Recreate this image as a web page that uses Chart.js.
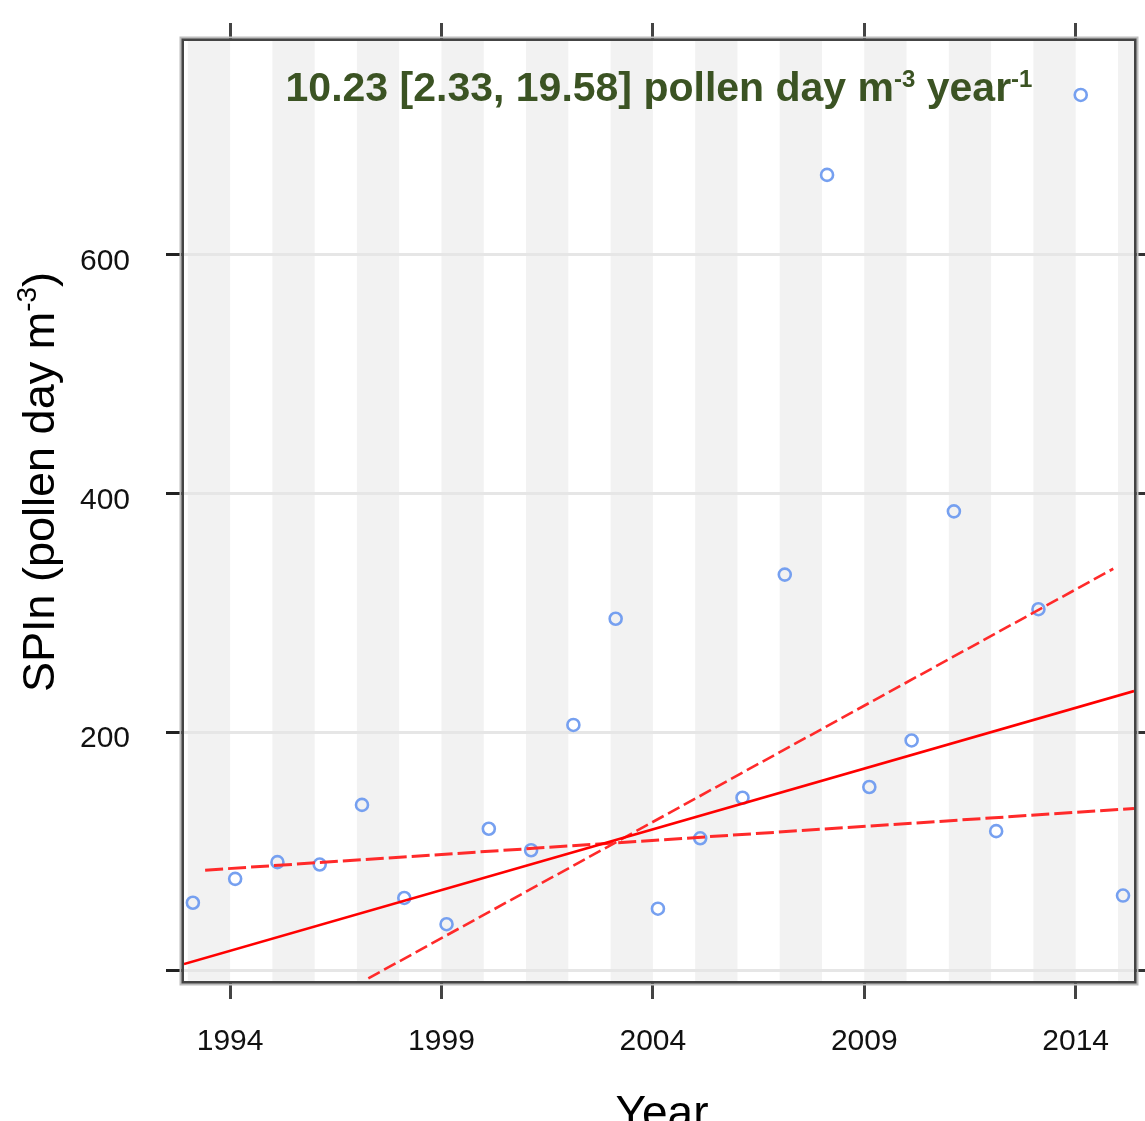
<!DOCTYPE html>
<html>
<head>
<meta charset="utf-8">
<script src="https://cdn.jsdelivr.net/npm/chart.js@4/dist/chart.umd.min.js"></script>
<style>
  html, body { margin: 0; padding: 0; background: #fff; }
  #wrap { width: 1145px; height: 1121px; }
</style>
</head>
<body>
<div id="wrap"><canvas id="chart" width="1145" height="1121"></canvas></div>
<script>
const years = [1993, 1994, 1995, 1996, 1997, 1998, 1999, 2000, 2001, 2002, 2003, 2004,
  2005, 2006, 2007, 2008, 2009, 2010, 2011, 2012, 2013, 2014, 2015]
const spin = [57, 77, 91, 89, 139, 61, 39, 119, 101, 206, 295, 52,
  111, 145, 332, 667, 154, 193, 385, 117, 303, 734, 63]

const xTickValues = [1994, 1999, 2004, 2009, 2014]
const yTickValues = [0, 200, 400, 600]
const yTickLabels = ['', '200', '400', '600']

// Theil-Sen trend and its interval, end points (year, value)
const trendX = [1992.91, 2015.38]
const trendY = [5.6, 234.4]
const lowerX = [1993.41, 2015.38]
const lowerY = [84.3, 136.0]
const upperX = [1997.27, 2014.89]
const upperY = [-6.4, 336.9]
const slopeText = ['10.23', '2.33', '19.58']

// the points sit a little right of the year ticks in the original
const pointShift = 0.12

const FONT = "'Liberation Sans', Arial, sans-serif"
const GREEN = '#3b5323'

const toXY = (xs, ys) => xs.map((x, i) => ({ x: x, y: ys[i] }))

function drawParts (ctx, parts, x, y) {
  let w = 0
  for (const p of parts) {
    ctx.font = `${p.weight || 'normal'} ${p.size}px ${FONT}`
    p.w = ctx.measureText(p.text).width
    w += p.w
  }
  let cx = x - w / 2
  for (const p of parts) {
    ctx.font = `${p.weight || 'normal'} ${p.size}px ${FONT}`
    ctx.fillText(p.text, cx, y - (p.rise || 0))
    cx += p.w
  }
}

const decor = {
  id: 'decor',
  beforeDraw (chart) {
    const { ctx, chartArea: a } = chart
    const xs = chart.scales.x
    ctx.save()
    ctx.fillStyle = '#fff'
    ctx.fillRect(0, 0, chart.width, chart.height)
    ctx.beginPath()
    ctx.rect(a.left, a.top, a.right - a.left, a.bottom - a.top)
    ctx.clip()
    ctx.fillStyle = '#f2f2f2'
    for (let yr = Math.floor(xs.min); yr < xs.max; yr++) {
      if (Math.abs(yr % 2) === 1) {
        const p0 = xs.getPixelForValue(yr)
        const p1 = xs.getPixelForValue(yr + 1)
        ctx.fillRect(p0, a.top, p1 - p0, a.bottom - a.top)
      }
    }
    ctx.restore()
  },
  afterDraw (chart) {
    const { ctx, chartArea: a } = chart
    ctx.save()
    // frame
    ctx.strokeStyle = '#bdbdbd'
    ctx.lineWidth = 2
    ctx.strokeRect(a.left - 3.5, a.top - 3.5, a.right - a.left + 7, a.bottom - a.top + 7)
    ctx.strokeStyle = '#444'
    ctx.lineWidth = 2.6
    ctx.strokeRect(a.left - 1.3, a.top - 1.3, a.right - a.left + 2.6, a.bottom - a.top + 2.6)

    const cx = (a.left + a.right) / 2
    // slope annotation
    ctx.fillStyle = GREEN
    ctx.textBaseline = 'alphabetic'
    drawParts(ctx, [
      { text: `${slopeText[0]} [${slopeText[1]}, ${slopeText[2]}] pollen day m`, size: 41, weight: 'bold' },
      { text: '-3', size: 24, weight: 'bold', rise: 14 },
      { text: ' year', size: 41, weight: 'bold' },
      { text: '-1', size: 24, weight: 'bold', rise: 14 }
    ], cx, 101)

    // axis titles
    ctx.fillStyle = '#000'
    drawParts(ctx, [{ text: 'Year', size: 46 }], cx + 3, 1128)
    ctx.translate(54, 482)
    ctx.rotate(-Math.PI / 2)
    drawParts(ctx, [
      { text: 'SPIn (pollen day m', size: 45 },
      { text: '-3', size: 28, rise: 18 },
      { text: ')', size: 45 }
    ], 0, 0)
    ctx.restore()
  }
}

// fixed axis sizes so the plot box lands where the original has it
const fixSize = (size) => (scale) => {
  if (scale.isHorizontal()) {
    scale.height = size
    scale.paddingLeft = 0
    scale.paddingRight = 0
  } else {
    scale.width = size
    scale.paddingTop = 0
    scale.paddingBottom = 0
  }
}

new Chart(document.getElementById('chart'), {
  data: {
    datasets: [
      {
        type: 'scatter',
        data: toXY(years.map(y => y + pointShift), spin),
        pointStyle: 'circle',
        pointRadius: 6,
        pointBorderWidth: 2.6,
        borderColor: 'rgb(118, 160, 240)',
        backgroundColor: 'rgba(0,0,0,0)',
        order: 2
      },
      {
        type: 'line',
        data: toXY(trendX, trendY),
        borderColor: '#ff0000',
        borderWidth: 2.6,
        pointRadius: 0,
        order: 1
      },
      {
        type: 'line',
        data: toXY(lowerX, lowerY),
        borderColor: '#ff2a2a',
        borderWidth: 3,
        borderDash: [18, 5],
        pointRadius: 0,
        order: 1
      },
      {
        type: 'line',
        data: toXY(upperX, upperY),
        borderColor: '#ff2a2a',
        borderWidth: 2.6,
        borderDash: [13, 5],
        pointRadius: 0,
        order: 1
      }
    ]
  },
  options: {
    responsive: false,
    animation: false,
    layout: { padding: 0 },
    plugins: { legend: { display: false }, tooltip: { enabled: false } },
    scales: {
      x: {
        type: 'linear',
        position: 'bottom',
        min: 1992.91,
        max: 2015.38,
        afterFit: fixSize(140),
        afterBuildTicks: (s) => { s.ticks = xTickValues.map(v => ({ value: v })) },
        border: { display: false },
        grid: { drawOnChartArea: false, tickLength: 18, tickColor: '#444', tickWidth: 3 },
        ticks: {
          padding: 25,
          color: '#111',
          font: { family: FONT, size: 30 },
          callback: (v) => String(v)
        }
      },
      x2: {
        type: 'linear',
        position: 'top',
        min: 1992.91,
        max: 2015.38,
        afterFit: fixSize(41),
        afterBuildTicks: (s) => { s.ticks = xTickValues.map(v => ({ value: v })) },
        border: { display: false },
        grid: { drawOnChartArea: false, tickLength: 18, tickColor: '#444', tickWidth: 3 },
        ticks: { display: false }
      },
      y: {
        type: 'linear',
        position: 'left',
        min: -8.6,
        max: 779.2,
        afterFit: fixSize(184),
        afterBuildTicks: (s) => { s.ticks = yTickValues.map(v => ({ value: v })) },
        border: { display: false },
        grid: { color: '#e6e6e6', lineWidth: 3, tickLength: 18, tickColor: '#222', tickWidth: 3 },
        ticks: {
          padding: 36,
          labelOffset: 7,
          color: '#111',
          font: { family: FONT, size: 30 },
          callback: (v) => yTickLabels[yTickValues.indexOf(v)]
        }
      },
      y2: {
        type: 'linear',
        position: 'right',
        min: -8.6,
        max: 779.2,
        afterFit: fixSize(11),
        afterBuildTicks: (s) => { s.ticks = yTickValues.map(v => ({ value: v })) },
        border: { display: false },
        grid: { drawOnChartArea: false, tickLength: 18, tickColor: '#333', tickWidth: 3 },
        ticks: { display: false }
      }
    }
  },
  plugins: [decor]
})
</script>
</body>
</html>
